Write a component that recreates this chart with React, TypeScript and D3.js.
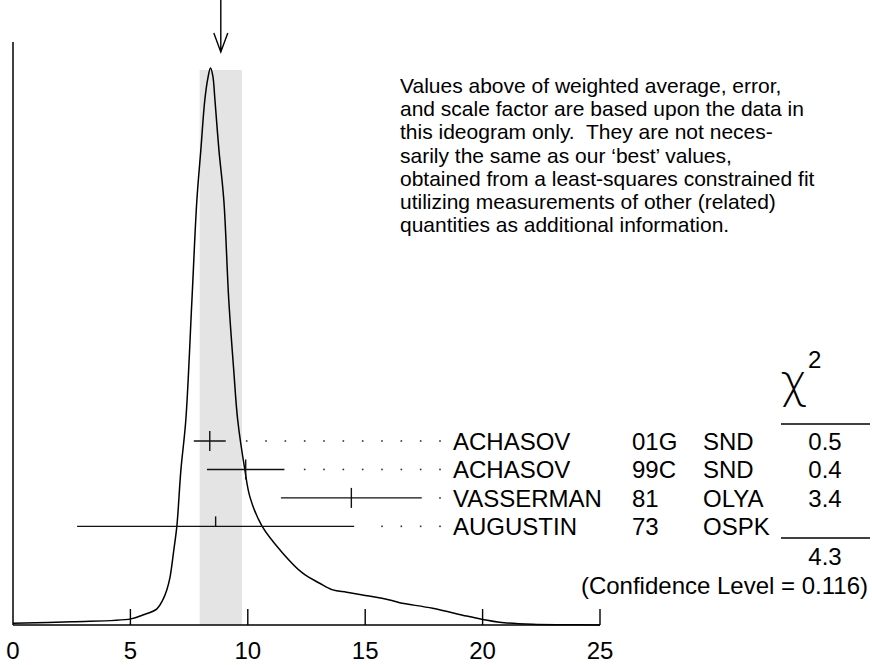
import React, { useEffect, useRef } from 'react';
import * as d3 from 'd3';

// Measurements, in the order they are listed
const authors = ['ACHASOV', 'ACHASOV', 'VASSERMAN', 'AUGUSTIN'];
const years = ['01G', '99C', '81', '73'];
const experiments = ['SND', 'SND', 'OLYA', 'OSPK'];
const values = [8.38, 9.91, 14.41, 8.63];
const errors = [0.68, 1.65, 3.0, 5.9];
const chi2Values = ['0.5', '0.4', '3.4', ''];
const usedInAverage = [true, true, true, false];

const weightedAverage = 8.85;
const averageError = 0.9;
const chi2Total = '4.3';
const confidenceLevel = '0.116';

const xTicks = [0, 5, 10, 15, 20, 25];

// Ideogram curve (value, relative height)
const curveX = [0, 2.51, 5.02, 5.53, 6.13, 6.38, 6.55, 6.68, 6.85, 6.98, 7.15, 7.36, 7.62, 7.83,
  8.0, 8.17, 8.3, 8.41, 8.51, 8.6, 8.77, 8.98, 9.19, 9.4, 9.57, 9.87, 10.09, 10.6, 11.49, 12.34,
  13.06, 13.62, 14.21, 14.89, 16.04, 16.47, 17.87, 19.32, 20.0, 20.72, 22.13, 23.57, 25.0];
const curveY = [0.003, 0.006, 0.011, 0.018, 0.029, 0.045, 0.063, 0.084, 0.135, 0.178, 0.278, 0.368,
  0.583, 0.762, 0.853, 0.943, 0.982, 1.0, 0.986, 0.943, 0.853, 0.762, 0.583, 0.458, 0.368, 0.28,
  0.23, 0.178, 0.129, 0.093, 0.075, 0.063, 0.059, 0.054, 0.045, 0.04, 0.03, 0.016, 0.01, 0.0048,
  0.0013, 0.0005, 0];

const noteLines = [
  'Values above of weighted average, error,',
  'and scale factor are based upon the data in',
  'this ideogram only.  They are not neces-',
  'sarily the same as our \u2018best\u2019 values,',
  'obtained from a least-squares constrained fit',
  'utilizing measurements of other (related)',
  'quantities as additional information.',
];

const FONT = '"Liberation Sans", Arial, Helvetica, sans-serif';

const App: React.FC = () => {
  const svgRef = useRef<SVGSVGElement>(null);
  const width = 872;
  const height = 665;

  useEffect(() => {
    if (!svgRef.current) return;
    const svg = d3.select(svgRef.current);
    svg.selectAll('*').remove();

    const baseY = 625;
    const x = d3.scaleLinear().domain([0, 25]).range([13, 600]);
    const y = d3.scaleLinear().domain([0, 1]).range([baseY, 68]);

    // weighted average band
    svg.append('rect')
      .attr('x', x(weightedAverage - averageError))
      .attr('y', 70)
      .attr('width', x(weightedAverage + averageError) - x(weightedAverage - averageError))
      .attr('height', baseY - 70)
      .attr('fill', '#e4e4e4');

    // arrow at the average
    const ax = x(weightedAverage);
    svg.append('path')
      .attr('d', `M${ax},0 L${ax},52 M${ax - 7},33 L${ax},52 L${ax + 7},33`)
      .attr('fill', 'none')
      .attr('stroke', '#000')
      .attr('stroke-width', 1.4);

    // axes
    svg.append('line')
      .attr('x1', x(0)).attr('x2', x(0))
      .attr('y1', 42).attr('y2', baseY)
      .attr('stroke', '#000').attr('stroke-width', 1.5);
    svg.append('line')
      .attr('x1', x(0)).attr('x2', x(25))
      .attr('y1', baseY).attr('y2', baseY)
      .attr('stroke', '#000').attr('stroke-width', 1.5);

    svg.selectAll('.tick')
      .data(xTicks.filter(t => t > 0))
      .join('line')
      .attr('x1', d => x(d)).attr('x2', d => x(d))
      .attr('y1', baseY - 16).attr('y2', baseY)
      .attr('stroke', '#000').attr('stroke-width', 1.4);

    svg.selectAll('.tick-label')
      .data(xTicks)
      .join('text')
      .attr('x', d => x(d))
      .attr('y', 659)
      .attr('text-anchor', 'middle')
      .style('font-family', FONT)
      .style('font-size', '24px')
      .text(d => d);

    // ideogram curve
    const pts: [number, number][] = curveX.map((v, i) => [v, curveY[i]]);
    const line = d3.line<[number, number]>()
      .x(d => x(d[0]))
      .y(d => y(d[1]))
      .curve(d3.curveCatmullRom.alpha(0.5));
    svg.append('path')
      .attr('d', line(pts))
      .attr('fill', 'none')
      .attr('stroke', '#000')
      .attr('stroke-width', 1.5);

    // measurement rows
    const rowY = (i: number) => 441 + i * 28.45;
    const dotEnd = 440;
    const dotStep = 19.33;

    values.forEach((v, i) => {
      const yy = rowY(i);
      const left = x(v - errors[i]);
      const right = x(v + errors[i]);
      svg.append('line')
        .attr('x1', left).attr('x2', right)
        .attr('y1', yy).attr('y2', yy)
        .attr('stroke', '#111').attr('stroke-width', 1.4);
      svg.append('line')
        .attr('x1', x(v)).attr('x2', x(v))
        .attr('y1', yy - 10).attr('y2', usedInAverage[i] ? yy + 10 : yy)
        .attr('stroke', '#111').attr('stroke-width', 1.4);

      for (let dx = dotEnd; dx > right + 12; dx -= dotStep) {
        svg.append('rect')
          .attr('x', dx - 0.8).attr('y', yy - 0.8)
          .attr('width', 1.6).attr('height', 1.6)
          .attr('fill', '#333');
      }

      const ty = yy + 8.6;
      const cols: [number, string, string][] = [
        [453, authors[i], 'start'],
        [632, years[i], 'start'],
        [703, experiments[i], 'start'],
        [825, chi2Values[i], 'middle'],
      ];
      cols.forEach(([cx, txt, anchor]) => {
        svg.append('text')
          .attr('x', cx).attr('y', ty)
          .attr('text-anchor', anchor)
          .style('font-family', FONT)
          .style('font-size', '24px')
          .text(txt);
      });
    });

    // chi-square column
    svg.append('text')
      .attr('x', 794).attr('y', 397)
      .attr('text-anchor', 'middle')
      .style('font-family', '"DejaVu Sans", sans-serif')
      .style('font-weight', 200)
      .style('font-size', '46px')
      .text('\u03C7');
    svg.append('text')
      .attr('x', 808).attr('y', 368)
      .style('font-family', FONT)
      .style('font-size', '24px')
      .text('2');
    [424, 538].forEach(ly => {
      svg.append('line')
        .attr('x1', 781).attr('x2', 870)
        .attr('y1', ly).attr('y2', ly)
        .attr('stroke', '#000').attr('stroke-width', 1.3);
    });
    svg.append('text')
      .attr('x', 825).attr('y', 565)
      .attr('text-anchor', 'middle')
      .style('font-family', FONT)
      .style('font-size', '24px')
      .text(chi2Total);
    svg.append('text')
      .attr('x', 868).attr('y', 594)
      .attr('text-anchor', 'end')
      .style('font-family', FONT)
      .style('font-size', '24px')
      .text(`(Confidence Level = ${confidenceLevel})`);

    // note
    svg.append('g')
      .selectAll('text')
      .data(noteLines)
      .join('text')
      .attr('x', 400)
      .attr('y', (_, i) => 93 + i * 23.2)
      .attr('xml:space', 'preserve')
      .style('white-space', 'pre')
      .style('font-family', FONT)
      .style('font-size', '21px')
      .text(d => d);
  }, []);

  return (
    <svg
      ref={svgRef}
      width={width}
      height={height}
      style={{ position: 'absolute', left: 0, top: 0, background: '#fff' }}
    />
  );
};

export default App;
